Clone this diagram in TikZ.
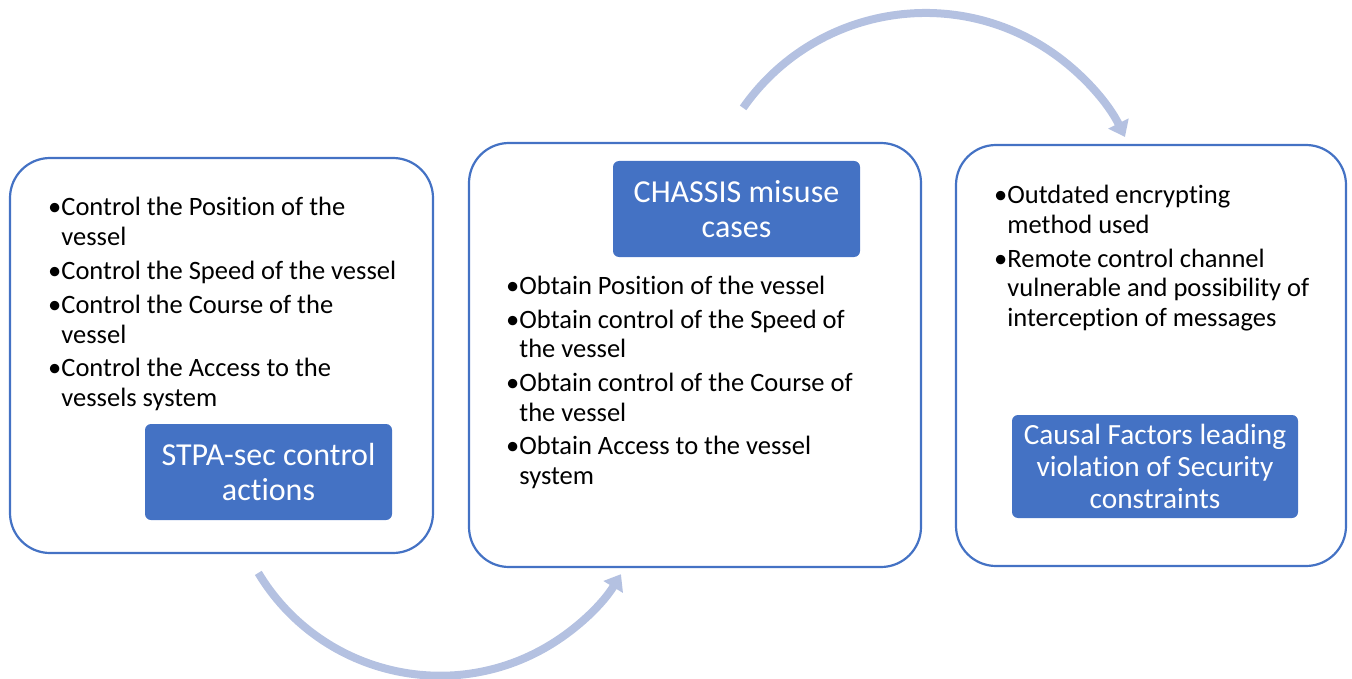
\documentclass[tikz,border=0pt]{standalone}
\usepackage{fontspec}
\setmainfont{Carlito}[RawFeature=-liga]
\usetikzlibrary{arrows.meta}
\definecolor{accent}{HTML}{4472C4}
\definecolor{flow}{HTML}{B4C1E1}
\newlength\bulw
% bullet paragraphs with a hanging indent after the bullet
\newcommand\bulfirst[1]{\settowidth\bulw{•}\hangindent=\bulw\hangafter=1\noindent•#1\par}
\newcommand\bul[1]{\vskip4.5pt\settowidth\bulw{•}\hangindent=\bulw\hangafter=1\noindent•#1\par}
% a block of bullets whose baseline is that of its first line
\newcommand\bullets[2]{\vtop{\hsize=#1\raggedright\parindent=0pt\parskip=0pt
  \fontsize{26.5}{29.5}\selectfont #2}}
\begin{document}
\begin{tikzpicture}[x=1pt,y=-1pt,
  panel/.style={draw=accent,line width=2.2pt,rounded corners=40pt,inner sep=0pt},
  tag/.style={fill=accent,rounded corners=6pt,text=white,align=center,inner sep=0pt},
  items/.style={anchor=base west,inner sep=0pt},
  flowarrow/.style={draw=flow,line width=8pt,-{Triangle[length=15pt,width=22pt]}}]
\useasboundingbox (0,0) rectangle (1352,679);

% three stage panels
\node[panel,minimum width=423,minimum height=395] (p1) at (221.5,355.5) {};
\node[panel,minimum width=452,minimum height=424] (p2) at (695,355) {};
\node[panel,minimum width=390,minimum height=421] (p3) at (1151,355.5) {};

% panel contents
\node[items] (l1) at (48,216) {\bullets{390pt}{%
\bulfirst{Control the Position of the\newline vessel}
\bul{Control the Speed of the vessel}
\bul{Control the Course of the\newline vessel}
\bul{Control the Access to the\newline vessels system}}};

\node[items] (l2) at (506,294) {\bullets{400pt}{%
\bulfirst{Obtain Position of the vessel}
\bul{Obtain control of the Speed of\newline the vessel}
\bul{Obtain control of the Course of\newline the vessel}
\bul{Obtain Access to the vessel\newline system}}};

\node[items] (l3) at (994,204) {\bullets{345pt}{%
\bulfirst{Outdated encrypting\newline method used}
\bul{Remote control channel\newline vulnerable and possibility of\newline interception of messages}}};

% stage labels
\node[tag,minimum width=247,minimum height=96,font=\fontsize{32}{35}\selectfont]
  (t1) at (268.5,472) {STPA-sec control\\actions};
\node[tag,minimum width=247,minimum height=96,font=\fontsize{32}{35}\selectfont]
  (t2) at (736.5,209) {CHASSIS misuse\\cases};
\node[tag,minimum width=286,minimum height=103,font=\fontsize{29.3}{32}\selectfont]
  (t3) at (1155,466.5) {Causal Factors leading\\violation of Security\\constraints};

% flow arrows between the stages
\coordinate (f1) at (258.3,572.9);
\coordinate (f2) at (743.1,107.9);
\draw[flowarrow] (f1) arc[start angle=149,end angle=31.4,radius=212];
\draw[flowarrow] (f2) arc[start angle=215,end angle=333.7,radius=222.6];
\end{tikzpicture}
\end{document}
